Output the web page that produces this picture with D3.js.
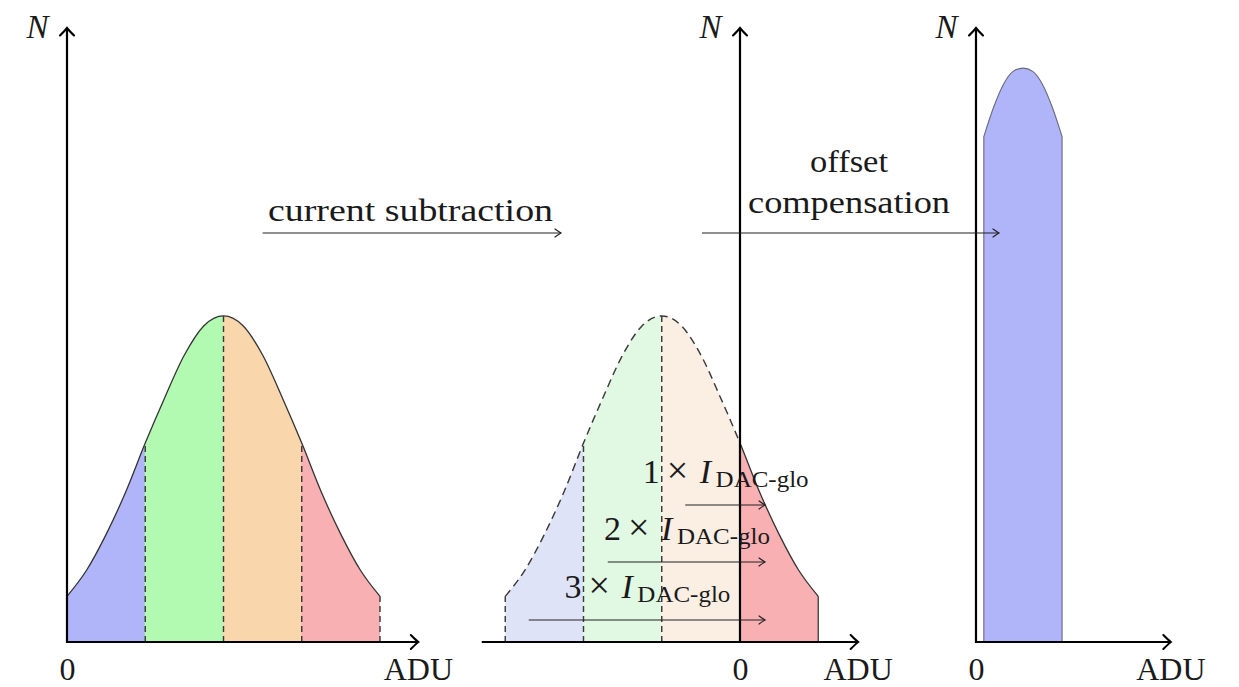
<!DOCTYPE html>
<html>
<head>
<meta charset="utf-8">
<script src="https://cdn.jsdelivr.net/npm/d3@7"></script>
<style>
  html, body { margin: 0; padding: 0; background: #fff; }
  svg { display: block; }
  text { font-family: "Liberation Serif", "Times New Roman", serif; fill: #1a1a1a; }
</style>
</head>
<body>
<svg id="chart" width="1239" height="687"></svg>
<script>
// ---- Data -------------------------------------------------------------
// Pixel distribution before correction (ADU in units of sigma, N relative to peak)
const leftADU = [0, 0.25, 0.5, 0.75, 1, 1.25, 1.5, 1.75, 2, 2.25, 2.5, 2.75, 3, 3.25, 3.5, 3.75, 4];
const leftN   = [0.14, 0.22, 0.33, 0.46, 0.61, 0.75, 0.88, 0.97, 1.00, 0.97, 0.88, 0.75, 0.61, 0.46, 0.33, 0.22, 0.14];
const leftBands = [0, 1, 2, 3, 4];

// Same distribution after the global current subtraction
const midADU = [-3, -2.75, -2.5, -2.25, -2, -1.75, -1.5, -1.25, -1, -0.75, -0.5, -0.25, 0, 0.25, 0.5, 0.75, 1];
const midN   = [0.14, 0.22, 0.33, 0.46, 0.61, 0.75, 0.88, 0.97, 1.00, 0.97, 0.88, 0.75, 0.61, 0.46, 0.33, 0.22, 0.14];
const midBands = [-3, -2, -1, 0, 1];

// Distribution after per-pixel offset compensation
const rightADU = [0.1, 0.225, 0.35, 0.475, 0.6, 0.725, 0.85, 0.975, 1.1];
const rightN   = [1.55, 1.64, 1.71, 1.75, 1.76, 1.75, 1.71, 1.64, 1.55];

// DAC steps drawn inside the middle panel
const stepLabels = ["1", "2", "3"];
const stepStart  = [-0.70, -1.69, -2.70];
const stepEnd    = 0.32;

const bandColors  = ["#b0b4f8", "#b2fab1", "#f9d6ab", "#f8b0b3"];
const ghostColors = ["#dee3f8", "#e1f8e2", "#fbeee2", "#f8b0b3"];

// ---- Layout -------------------------------------------------------------
const unit = 78.25;              // px per sigma on every ADU axis
const baseY = 642;
const yMax = 1.883;

const svg = d3.select("#chart");
const defs = svg.append("defs");

const y = d3.scaleLinear().domain([0, yMax]).range([baseY, 28]);

const xL = d3.scaleLinear().domain([0, 4.49]).range([67, 67 + 4.49 * unit]);
const xM = d3.scaleLinear().domain([-3.30, 1.51]).range([740 - 3.30 * unit, 740 + 1.51 * unit]);
const xR = d3.scaleLinear().domain([0, 2.49]).range([976, 976 + 2.49 * unit]);

// arrow heads
function marker(id, back, half, width, color) {
  defs.append("marker")
    .attr("id", id)
    .attr("markerUnits", "userSpaceOnUse")
    .attr("viewBox", `${-back - 3} ${-half - 3} ${back + 6} ${2 * half + 6}`)
    .attr("refX", 0).attr("refY", 0)
    .attr("markerWidth", back + 6).attr("markerHeight", 2 * half + 6)
    .attr("orient", "auto")
    .append("path")
    .attr("d", `M${-back},${-half} Q${-back * 0.3},${-half * 0.25} 0,0 Q${-back * 0.3},${half * 0.25} ${-back},${half}`)
    .attr("fill", "none")
    .attr("stroke", color)
    .attr("stroke-width", width)
    .attr("stroke-linecap", "round");
}
marker("axisHead", 7.5, 7, 2.1, "#000");
marker("thinHead", 6, 4, 1.2, "#222");

let clipId = 0;
function clipRect(x0, x1) {
  const id = "clip" + (clipId++);
  defs.append("clipPath").attr("id", id)
    .append("rect")
    .attr("x", x0).attr("y", 0)
    .attr("width", x1 - x0).attr("height", 687);
  return `url(#${id})`;
}

function pts(xs, ns) { return xs.map((d, i) => [d, ns[i]]); }

// ---- Panel drawing ------------------------------------------------------
function drawBands(x, xs, ns, bands, colors) {
  const area = d3.area()
    .x(d => x(d[0])).y0(y(0)).y1(d => y(d[1]))
    .curve(d3.curveMonotoneX);
  const data = pts(xs, ns);
  const g = svg.append("g");
  for (let i = 0; i < bands.length - 1; i++) {
    g.append("path")
      .attr("d", area(data))
      .attr("fill", colors[i])
      .attr("clip-path", clipRect(x(bands[i]) - 0.5, x(bands[i + 1]) + 0.5));
  }
}

function nAt(xs, ns, v) { return ns[xs.indexOf(v)]; }

function divider(x, xs, ns, v, dashed) {
  svg.append("line")
    .attr("x1", x(v)).attr("x2", x(v))
    .attr("y1", y(0)).attr("y2", y(nAt(xs, ns, v)))
    .attr("stroke", "#3a3a3a")
    .attr("stroke-width", dashed ? 1.45 : 1.3)
    .attr("stroke-dasharray", dashed ? "6,4" : null);
}

const topLine = x => d3.line().x(d => x(d[0])).y(d => y(d[1])).curve(d3.curveMonotoneX);

// Left panel: full distribution
drawBands(xL, leftADU, leftN, leftBands, bandColors);
svg.append("path")
  .attr("d", topLine(xL)(pts(leftADU, leftN)))
  .attr("fill", "none").attr("stroke", "#333").attr("stroke-width", 1.3);
[1, 2, 3, 4].forEach(v => divider(xL, leftADU, leftN, v, true));

// Middle panel: shifted distribution, only the positive part survives
drawBands(xM, midADU, midN, midBands, ghostColors);
svg.append("path")
  .attr("d", topLine(xM)(pts(midADU, midN)))
  .attr("fill", "none").attr("stroke", "#3a3a3a").attr("stroke-width", 1.45)
  .attr("stroke-dasharray", "8,5")
  .attr("clip-path", clipRect(0, xM(0)));
svg.append("path")
  .attr("d", topLine(xM)(pts(midADU, midN)))
  .attr("fill", "none").attr("stroke", "#333").attr("stroke-width", 1.3)
  .attr("clip-path", clipRect(xM(0), 1239));
[-3, -2, -1].forEach(v => divider(xM, midADU, midN, v, true));
divider(xM, midADU, midN, 1, false);

// Right panel: compressed distribution
const rightArea = d3.area()
  .x(d => xR(d[0])).y0(y(0)).y1(d => y(d[1]))
  .curve(d3.curveMonotoneX);
svg.append("path")
  .attr("d", rightArea(pts(rightADU, rightN)))
  .attr("fill", bandColors[0])
  .attr("stroke", "#6a6a7a").attr("stroke-width", 1.1);

// ---- Axes ---------------------------------------------------------------
function axes(x, x0) {
  const xAxisEnd = x.range()[1];
  svg.append("line")
    .attr("x1", x.range()[0]).attr("x2", xAxisEnd)
    .attr("y1", y(0)).attr("y2", y(0))
    .attr("stroke", "#000").attr("stroke-width", 2.2)
    .attr("marker-end", "url(#axisHead)");
  svg.append("line")
    .attr("x1", x(x0)).attr("x2", x(x0))
    .attr("y1", y(0) + 1.1).attr("y2", y(yMax))
    .attr("stroke", "#000").attr("stroke-width", 2.2)
    .attr("marker-end", "url(#axisHead)");

  const g = svg.append("g")
    .attr("transform", `translate(0,${y(0)})`)
    .call(d3.axisBottom(x).tickValues([0]).tickSize(0).tickFormat(d3.format("d")));
  g.select(".domain").remove();
  g.attr("font-family", null).attr("font-size", null);
  g.selectAll(".tick text")
    .attr("y", 38).attr("dy", 0)
    .attr("font-size", 32)
    .style("fill", "#1a1a1a");

  svg.append("text")
    .attr("x", xAxisEnd).attr("y", 680)
    .attr("text-anchor", "middle")
    .attr("font-size", 32)
    .text("ADU");
  svg.append("text")
    .attr("x", x(x0) - 29.5).attr("y", 38)
    .attr("text-anchor", "middle")
    .attr("font-size", 33)
    .attr("font-style", "italic")
    .text("N");
}
axes(xL, 0);
axes(xM, 0);
axes(xR, 0);

// ---- Annotations --------------------------------------------------------
function arrow(x1, x2, yy) {
  svg.append("line")
    .attr("x1", x1).attr("x2", x2)
    .attr("y1", yy).attr("y2", yy)
    .attr("stroke", "#222").attr("stroke-width", 1.2)
    .attr("marker-end", "url(#thinHead)");
}

// current subtraction
arrow(xL(2.5), 561, 233);
svg.append("text")
  .attr("x", 268).attr("y", 221)
  .attr("font-size", 32)
  .attr("textLength", 285).attr("lengthAdjust", "spacingAndGlyphs")
  .text("current subtraction");

// offset compensation
arrow(702, 999, 233);
svg.append("text")
  .attr("x", 849).attr("y", 172)
  .attr("text-anchor", "middle")
  .attr("font-size", 32)
  .attr("textLength", 78).attr("lengthAdjust", "spacingAndGlyphs")
  .text("offset");
svg.append("text")
  .attr("x", 849).attr("y", 213)
  .attr("text-anchor", "middle")
  .attr("font-size", 32)
  .attr("textLength", 202).attr("lengthAdjust", "spacingAndGlyphs")
  .text("compensation");

// k × I_DAC-glo steps
const stepRows = [505, 562, 620];
stepLabels.forEach((k, i) => {
  const x1 = xM(stepStart[i]), x2 = xM(stepEnd);
  const yy = stepRows[i];
  arrow(x1, x2, yy);
  const s = (x1 + x2) / 2 - 82.5;
  const base = yy - 22;
  const t = svg.append("text").attr("y", base);
  t.append("tspan").attr("x", s).attr("font-size", 34).text(k);
  t.append("tspan").attr("x", s + 24).attr("font-size", 38).text("\u00d7");
  t.append("tspan").attr("x", s + 57).attr("font-size", 34).attr("font-style", "italic").text("I");
  t.append("tspan").attr("x", s + 73).attr("y", base + 4).attr("font-size", 24)
    .attr("textLength", 93).attr("lengthAdjust", "spacingAndGlyphs").text("DAC-glo");
});
</script>
</body>
</html>
